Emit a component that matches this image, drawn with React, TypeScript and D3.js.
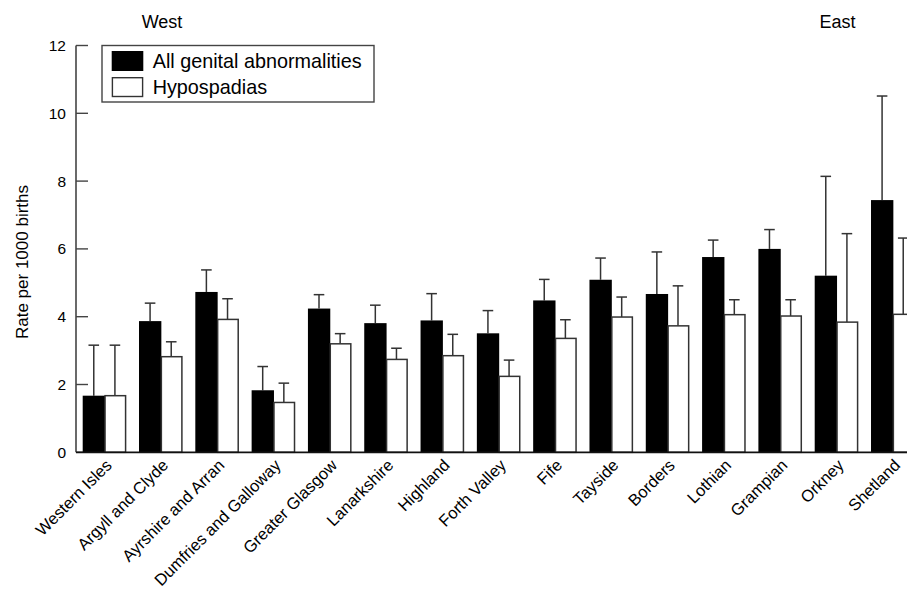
import React from "react";
import * as d3 from "d3";

const categories = [
  "Western Isles",
  "Argyll and Clyde",
  "Ayrshire and Arran",
  "Dumfries and Galloway",
  "Greater Glasgow",
  "Lanarkshire",
  "Highland",
  "Forth Valley",
  "Fife",
  "Tayside",
  "Borders",
  "Lothian",
  "Grampian",
  "Orkney",
  "Shetland",
];
const allGenital = [1.67, 3.87, 4.73, 1.83, 4.24, 3.81, 3.89, 3.51, 4.48, 5.09, 4.67, 5.76, 6.0, 5.21, 7.44];
const allGenitalUpper = [3.16, 4.4, 5.38, 2.53, 4.65, 4.34, 4.68, 4.18, 5.1, 5.73, 5.91, 6.26, 6.57, 8.14, 10.51];
const hypospadias = [1.67, 2.82, 3.92, 1.47, 3.2, 2.74, 2.85, 2.24, 3.36, 3.99, 3.73, 4.06, 4.02, 3.84, 4.07];
const hypospadiasUpper = [3.16, 3.26, 4.53, 2.04, 3.5, 3.07, 3.48, 2.72, 3.91, 4.58, 4.91, 4.5, 4.5, 6.45, 6.32];
const yTicks = [0, 2, 4, 6, 8, 10, 12];
const seriesNames = ["All genital abnormalities", "Hypospadias"];

const W = 907;
const H = 595;
const FONT = "'Liberation Sans', Arial, sans-serif";

export default function App() {
  const axisX = 76;
  const y = d3.scaleLinear().domain([0, 12]).range([452.3, 45.5]);
  const x = d3
    .scaleBand<string>()
    .domain(categories)
    .range([axisX, 920])
    .paddingInner(0.249)
    .paddingOuter(0.119);
  const inner = d3.scaleBand<string>().domain(["all", "hyp"]).range([0, x.bandwidth()]);
  const bw = inner.bandwidth();
  const cap = 5.3;
  const stroke = "#333";

  return (
    <div style={{ position: "absolute", left: 0, top: 0, width: W, height: H, overflow: "hidden", background: "#fff" }}>
      <svg width={W} height={H} style={{ display: "block", fontFamily: FONT }}>
        {/* region labels */}
        <text x={162} y={28} fontSize={18} textAnchor="middle" fill="#000">West</text>
        <text x={837.5} y={27.5} fontSize={18} textAnchor="middle" fill="#000">East</text>

        {/* y axis */}
        <line x1={axisX} x2={axisX} y1={y(12)} y2={y(0)} stroke="#444" strokeWidth={1.6} />
        {yTicks.map((t) => (
          <g key={t}>
            <line x1={axisX} x2={axisX + 12} y1={y(t)} y2={y(t)} stroke="#444" strokeWidth={1.4} />
            <text x={axisX - 10} y={y(t)} dy="0.36em" fontSize={15.5} textAnchor="end" fill="#000">
              {t}
            </text>
          </g>
        ))}
        <text
          transform={`translate(28,262) rotate(-90)`}
          fontSize={17}
          textAnchor="middle"
          fill="#000"
        >
          Rate per 1000 births
        </text>

        {/* bars */}
        {categories.map((c, i) => {
          const gx = x(c) as number;
          const bx = gx + (inner("all") as number);
          const hx = gx + (inner("hyp") as number);
          const bcx = bx + bw / 2 + 0.5;
          const hcx = hx + bw / 2 + 0.5;
          return (
            <g key={c}>
              {/* error bars */}
              <line x1={bcx} x2={bcx} y1={y(allGenital[i])} y2={y(allGenitalUpper[i])} stroke={stroke} strokeWidth={1.5} />
              <line x1={bcx - cap} x2={bcx + cap} y1={y(allGenitalUpper[i])} y2={y(allGenitalUpper[i])} stroke={stroke} strokeWidth={1.5} />
              <line x1={hcx} x2={hcx} y1={y(hypospadias[i])} y2={y(hypospadiasUpper[i])} stroke={stroke} strokeWidth={1.5} />
              <line x1={hcx - cap} x2={hcx + cap} y1={y(hypospadiasUpper[i])} y2={y(hypospadiasUpper[i])} stroke={stroke} strokeWidth={1.5} />
              <rect x={bx} y={y(allGenital[i])} width={bw + 1.2} height={y(0) - y(allGenital[i])} fill="#000" />
              <rect
                x={hx + 1.2}
                y={y(hypospadias[i])}
                width={bw - 0.6}
                height={y(0) - y(hypospadias[i])}
                fill="#fff"
                stroke={stroke}
                strokeWidth={1.5}
              />
            </g>
          );
        })}

        {/* x axis */}
        <line x1={axisX} x2={W + 20} y1={y(0)} y2={y(0)} stroke="#111" strokeWidth={1.8} />
        {categories.map((c) => {
          const cx = (x(c) as number) + x.bandwidth() / 2;
          return (
            <text
              key={c}
              transform={`translate(${cx + 9},${y(0) + 14}) rotate(-45)`}
              fontSize={16.5}
              textAnchor="end"
              fill="#000"
            >
              {c}
            </text>
          );
        })}

        {/* legend */}
        <rect x={102} y={45.5} width={272} height={56.5} fill="#fff" stroke="#444" strokeWidth={1.4} />
        <rect x={111.7} y={51} width={31.6} height={20} fill="#000" />
        <rect x={112.4} y={77.7} width={30.2} height={18.8} fill="#fff" stroke={stroke} strokeWidth={1.4} />
        <text x={152.7} y={68.3} fontSize={19.8} fill="#000">{seriesNames[0]}</text>
        <text x={152.7} y={94.3} fontSize={19.8} fill="#000">{seriesNames[1]}</text>
      </svg>
    </div>
  );
}
